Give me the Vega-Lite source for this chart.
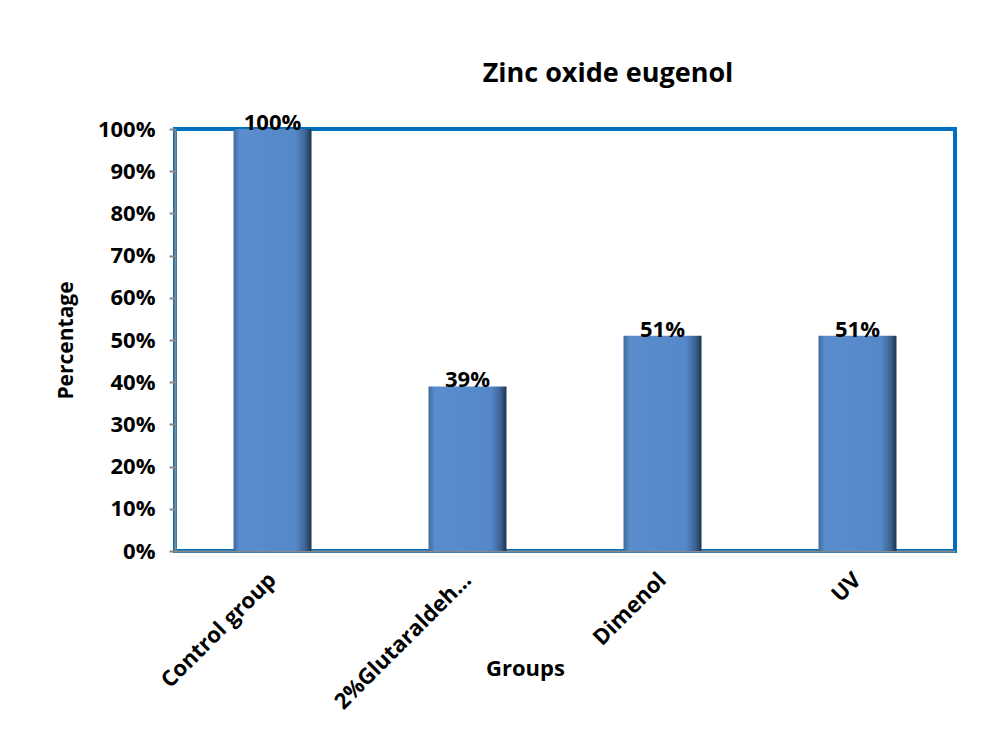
{
  "$schema": "https://vega.github.io/schema/vega-lite/v6.json",
  "autosize": "none",
  "width": 780,
  "height": 422,
  "padding": {"left": 175, "top": 129, "right": 52, "bottom": 179},
  "background": "white",
  "data": {"values": [
    {"group": "Control group", "value": 1.00},
    {"group": "2%Glutaraldeh…", "value": 0.39},
    {"group": "Dimenol", "value": 0.51},
    {"group": "UV", "value": 0.51}
  ]},
  "title": {
    "text": "Zinc oxide eugenol",
    "font": "Open Sans",
    "fontSize": 27,
    "fontWeight": "bold",
    "color": "black",
    "anchor": "middle",
    "dx": 43,
    "offset": 24
  },
  "config": {
    "view": {"stroke": "#0070C0", "strokeWidth": 4},
    "axis": {
      "labelFont": "Open Sans",
      "labelFontWeight": "bold",
      "labelColor": "black",
      "titleFont": "Open Sans",
      "titleFontWeight": "bold",
      "titleColor": "black",
      "grid": false
    }
  },
  "encoding": {
    "x": {
      "field": "group",
      "type": "nominal",
      "sort": null,
      "scale": {"paddingInner": 0.6, "paddingOuter": 0.3},
      "axis": {
        "title": "Groups",
        "titleFontSize": 22,
        "titleX": 350,
        "titleY": 117,
        "titleBaseline": "middle",
        "labelAngle": -45,
        "labelAlign": "right",
        "labelBaseline": "middle",
        "labelFontSize": 22,
        "labelPadding": 25,
        "labelOverlap": false,
        "labelLimit": 400,
        "ticks": false,
        "domainColor": "#888888",
        "domainWidth": 2
      }
    },
    "y": {
      "field": "value",
      "type": "quantitative",
      "scale": {"domain": [0, 1]},
      "axis": {
        "title": "Percentage",
        "titleFontSize": 21,
        "titleX": -109,
        "titleY": 211,
        "titleAngle": -90,
        "titleBaseline": "middle",
        "titleAlign": "center",
        "format": ".0%",
        "values": [0, 0.1, 0.2, 0.3, 0.4, 0.5, 0.6, 0.7, 0.8, 0.9, 1.0],
        "labelOverlap": false,
        "labelFontSize": 22,
        "labelPadding": 14,
        "tickSize": 6,
        "tickColor": "#888888",
        "tickWidth": 2,
        "domainColor": "#888888",
        "domainWidth": 2
      }
    }
  },
  "layer": [
    {
      "mark": {
        "type": "bar",
        "color": {
          "gradient": "linear",
          "x1": 0, "y1": 0, "x2": 1, "y2": 0,
          "stops": [
            {"offset": 0, "color": "#3f6a9e"},
            {"offset": 0.08, "color": "#5a8dcc"},
            {"offset": 0.8, "color": "#5588c8"},
            {"offset": 0.92, "color": "#3d6494"},
            {"offset": 1, "color": "#1c3350"}
          ]
        }
      }
    },
    {
      "mark": {
        "type": "text",
        "font": "Open Sans",
        "fontWeight": "bold",
        "fontSize": 22,
        "baseline": "bottom",
        "dy": 6,
        "color": "black"
      },
      "encoding": {
        "text": {"field": "value", "type": "quantitative", "format": ".0%"}
      }
    }
  ]
}
